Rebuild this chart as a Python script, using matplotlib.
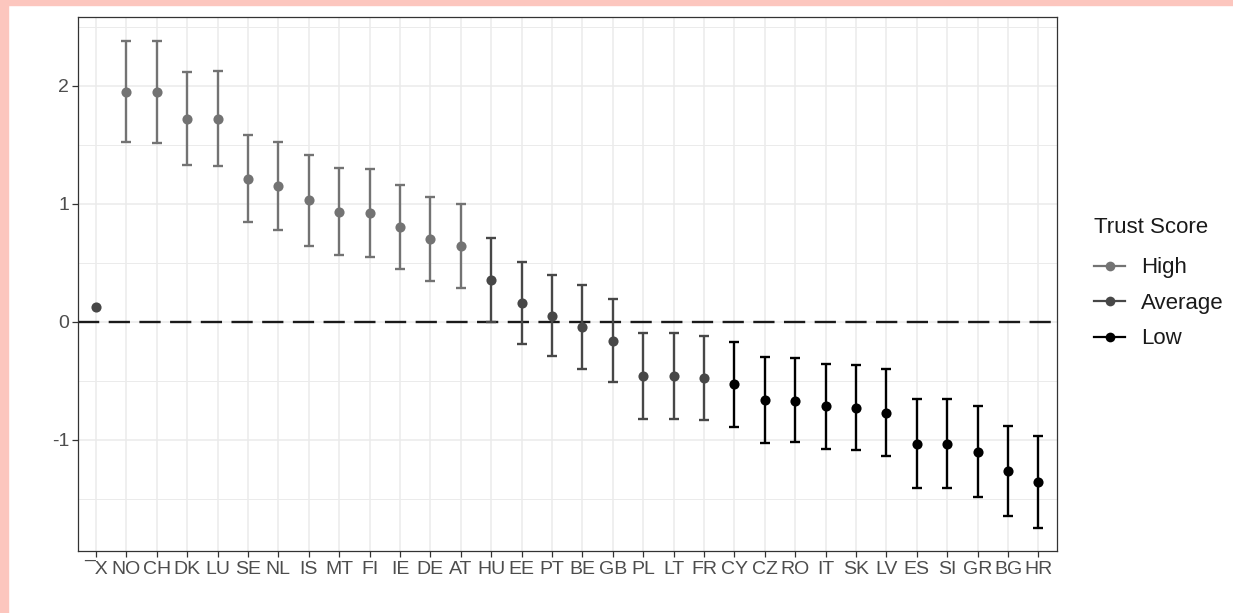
import numpy as np
import matplotlib.pyplot as plt
from matplotlib.lines import Line2D
from matplotlib.patches import Rectangle

plt.rcParams['font.family'] = ['Liberation Sans', 'DejaVu Sans']

countries = ["\u00afX", "NO", "CH", "DK", "LU", "SE", "NL", "IS", "MT", "FI", "IE",
             "DE", "AT", "HU", "EE", "PT", "BE", "GB", "PL", "LT", "FR", "CY",
             "CZ", "RO", "IT", "SK", "LV", "ES", "SI", "GR", "BG", "HR"]
estimate = [0.125, 1.951, 1.946, 1.722, 1.719, 1.210, 1.151, 1.028, 0.928, 0.919, 0.803,
            0.704, 0.642, 0.352, 0.161, 0.048, -0.042, -0.161, -0.458, -0.458, -0.480, -0.528,
            -0.664, -0.670, -0.718, -0.729, -0.774, -1.037, -1.037, -1.103, -1.266, -1.362]
lower = [np.nan, 1.522, 1.513, 1.329, 1.320, 0.845, 0.780, 0.645, 0.563, 0.549, 0.444,
         0.345, 0.286, 0.000, -0.186, -0.290, -0.398, -0.514, -0.822, -0.822, -0.834, -0.890,
         -1.032, -1.023, -1.080, -1.091, -1.142, -1.413, -1.413, -1.484, -1.648, -1.750]
upper = [np.nan, 2.383, 2.378, 2.115, 2.124, 1.581, 1.522, 1.411, 1.301, 1.293, 1.160,
         1.058, 0.998, 0.713, 0.506, 0.392, 0.309, 0.190, -0.099, -0.099, -0.119, -0.170,
         -0.297, -0.306, -0.356, -0.364, -0.398, -0.656, -0.659, -0.718, -0.888, -0.972]
trust = ["Average"] + ["High"] * 12 + ["Average"] * 8 + ["Low"] * 11

levels = ["High", "Average", "Low"]
colours = {"High": "#737373", "Average": "#474747", "Low": "#000000"}

x = np.arange(len(countries))
est = np.array(estimate)
lo = np.array(lower)
hi = np.array(upper)
grp = np.array(trust)

fig = plt.figure(figsize=(12.33, 6.13), dpi=100)
ax = fig.add_axes([77.7 / 1233, 62 / 613, 979 / 1233, 534.3 / 613])

ax.axhline(0, color="#1a1a1a", lw=1.7, ls=(0, (9, 4)), zorder=2)

for g in levels:
    m = grp == g
    ok = m & ~np.isnan(lo)
    ax.errorbar(x[ok], est[ok], yerr=[est[ok] - lo[ok], hi[ok] - est[ok]],
                fmt="none", ecolor=colours[g], elinewidth=1.7, capsize=3.6,
                capthick=1.7, zorder=3)
    ax.plot(x[m], est[m], "o", color=colours[g], ms=7.3, zorder=4, mew=0)

ax.set_xlim(-0.6, len(countries) - 0.4)
ax.set_ylim(-1.945, 2.587)
ax.set_xticks(x)
ax.set_xticklabels(countries)
ax.set_yticks([-1, 0, 1, 2])
ax.set_yticklabels(["-1", "0", "1", "2"])
ax.set_yticks([-1.5, -0.5, 0.5, 1.5, 2.5], minor=True)
ax.tick_params(which="major", length=4, width=0.9, color="#333333",
               labelsize=14, labelcolor="#4d4d4d", pad=2)
ax.tick_params(axis="x", pad=3)
ax.tick_params(which="minor", length=0)

ax.grid(which="major", color="#ebebeb", lw=1.1)
ax.grid(which="minor", axis="y", color="#ebebeb", lw=0.7)
ax.set_axisbelow(True)
for s in ax.spines.values():
    s.set_color("#333333")
    s.set_linewidth(0.9)

handles = [Line2D([0], [0], color=colours[g], lw=1.6, marker="o", ms=7, mew=0)
           for g in levels]
leg = ax.legend(handles, levels, title="Trust Score", loc="upper left",
                bbox_to_anchor=(1094 / 1233, 1 - 217 / 613), bbox_transform=fig.transFigure,
                frameon=False, fontsize=16, title_fontsize=16, handlelength=1.4,
                handletextpad=0.7, labelspacing=0.65, borderaxespad=0, borderpad=0)
leg._legend_box.align = "left"
leg._legend_box.sep = 14
for t in leg.get_texts():
    t.set_color("#1a1a1a")
leg.get_title().set_color("#1a1a1a")

# pink frame along top and left edge
fig.patches.append(Rectangle((0, 1 - 5 / 613), 1, 5 / 613, transform=fig.transFigure,
                             color="#fcc6be", zorder=0))
fig.patches.append(Rectangle((0, 0), 8.3 / 1233, 1, transform=fig.transFigure,
                             color="#fcc6be", zorder=0))

fig.savefig("out.png", dpi=100)
